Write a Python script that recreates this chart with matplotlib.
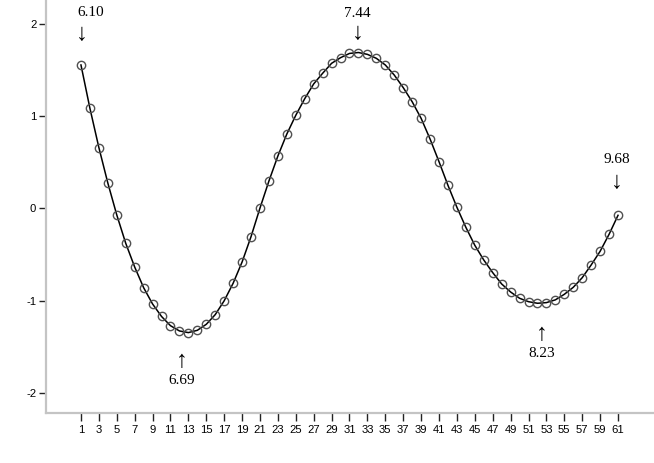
import numpy as np
import matplotlib
matplotlib.use('Agg')
import matplotlib.pyplot as plt

# series
x_vals = list(range(1, 62))
y_vals = [1.555, 1.085, 0.66, 0.276, -0.07, -0.377, -0.634, -0.858, -1.035, -1.17,
          -1.27, -1.327, -1.345, -1.32, -1.255, -1.15, -1.0, -0.81, -0.58, -0.305,
          0.005, 0.298, 0.569, 0.807, 1.01, 1.19, 1.35, 1.465, 1.573, 1.634,
          1.68, 1.69, 1.67, 1.627, 1.555, 1.446, 1.31, 1.157, 0.977, 0.753,
          0.507, 0.251, 0.013, -0.204, -0.399, -0.558, -0.695, -0.818, -0.905, -0.973,
          -1.01, -1.027, -1.02, -0.99, -0.93, -0.854, -0.75, -0.612, -0.464, -0.28,
          -0.074]

# extreme point labels
label_x = [1, 13, 32, 52, 61]
label_text = ['6.10', '6.69', '7.44', '8.23', '9.68']
label_above = [True, False, True, False, True]

x_ticks = list(range(1, 62, 2))
y_ticks = [-2, -1, 0, 1, 2]

# placement of arrow / text relative to the point (points)
# (arrow dx, arrow dy, text dx, text dy)
label_offsets = [(0.7, 22, 7.2, 38),
                 (-5, -20.7, -5, -34.6),
                 (-0.7, 13.5, -0.7, 28.3),
                 (2.9, -22.8, 2.9, -36.5),
                 (-1, 23.3, -1, 40.3)]

fig = plt.figure(figsize=(6.54, 4.63), dpi=100)
ax = fig.add_axes([0.0703, 0.108, 0.9297, 0.892])

ax.plot(x_vals, y_vals, color='black', lw=1.1, zorder=2)
ax.plot(x_vals, y_vals, ls='none', marker='o', ms=6, mfc='none',
        mec='#505050', mew=1.0, zorder=3)

ax.set_xlim(-2.91, 65.02)
ax.set_ylim(-2.216, 2.259)

ax.set_xticks(x_ticks)
ax.set_xticklabels([str(t) for t in x_ticks], fontsize=8.1, family='Liberation Sans')
ax.set_yticks(y_ticks)
ax.set_yticklabels([str(t) for t in y_ticks], fontsize=8.1, family='Liberation Sans')

for s in ['top', 'right']:
    ax.spines[s].set_visible(False)
for s in ['left', 'bottom']:
    ax.spines[s].set_color('#c4c4c4')
    ax.spines[s].set_linewidth(1.6)

ax.tick_params(axis='y', direction='out', length=5, width=1, color='#222222', pad=2)
ax.tick_params(axis='x', direction='out', length=6, width=1, color='#222222', pad=3)

serif = ['Liberation Serif', 'DejaVu Serif']
yv = dict(zip(x_vals, y_vals))
for lx, txt, above, off in zip(label_x, label_text, label_above, label_offsets):
    py = yv[lx]
    arrow = '\u2193' if above else '\u2191'
    ax.annotate(arrow, (lx, py), xytext=(off[0], off[1]), textcoords='offset points',
                ha='center', va='center', fontsize=17, family=serif)
    ax.annotate(txt, (lx, py), xytext=(off[2], off[3]), textcoords='offset points',
                ha='center', va='center', fontsize=11, family=serif)

fig.savefig('out.png', dpi=100)
